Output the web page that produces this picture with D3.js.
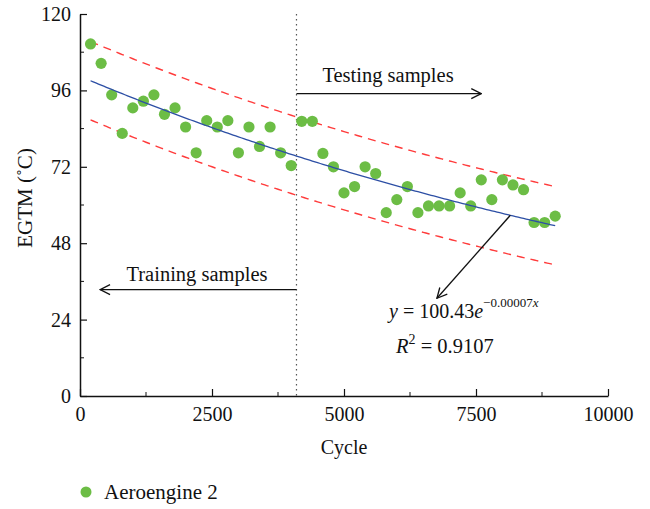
<!DOCTYPE html>
<html>
<head>
<meta charset="utf-8">
<script src="https://cdn.jsdelivr.net/npm/d3@7"></script>
<style>
  body { margin: 0; background: #fff; }
  text { font-family: "Liberation Serif", "DejaVu Serif", serif; fill: #111; }
</style>
</head>
<body>
<div class="svg-container"></div>
<script>
// data
const cycles = [200, 400, 600, 800, 1000, 1200, 1400, 1600, 1800, 2000,
  2200, 2400, 2600, 2800, 3000, 3200, 3400, 3600, 3800, 4000,
  4200, 4400, 4600, 4800, 5000, 5200, 5400, 5600, 5800, 6000,
  6200, 6400, 6600, 6800, 7000, 7200, 7400, 7600, 7800, 8000,
  8200, 8400, 8600, 8800, 9000];
const egtm = [110.6, 104.5, 94.6, 82.5, 90.5, 92.6, 94.6, 88.5, 90.5, 84.5,
  76.4, 86.5, 84.5, 86.5, 76.4, 84.5, 78.4, 84.5, 76.4, 72.4,
  86.3, 86.3, 76.2, 72.0, 63.8, 65.8, 72.0, 69.9, 57.6, 61.7,
  65.8, 57.6, 59.7, 59.7, 59.7, 63.8, 59.7, 67.9, 61.7, 67.9,
  66.3, 64.8, 54.5, 54.5, 56.5];
const xTicks = [0, 2500, 5000, 7500, 10000];
const xMinor = [1250, 3750, 6250, 8750];
const yTicks = [0, 24, 48, 72, 96, 120];
const yMinor = [12, 36, 60, 84, 108];

// fit y = a * exp(b * x), band +/- width
const fitA = 100.43, fitB = -0.00007, bandWidth = 12.3;
const splitCycle = 4100;
const seriesName = "Aeroengine 2";

const width = 650, height = 509;
const margin = { top: 14, right: 42, bottom: 113, left: 80 };

const svg = d3.select(".svg-container")
  .append("svg")
  .attr("width", width)
  .attr("height", height);

const xScale = d3.scaleLinear()
  .domain([0, 10000])
  .range([margin.left, width - margin.right]);

const yScale = d3.scaleLinear()
  .domain([0, 120])
  .range([height - margin.bottom, margin.top]);

const defs = svg.append("defs");
defs.append("marker")
  .attr("id", "arrow")
  .attr("viewBox", "0 0 12 12")
  .attr("refX", 11)
  .attr("refY", 6)
  .attr("markerWidth", 12)
  .attr("markerHeight", 12)
  .attr("markerUnits", "userSpaceOnUse")
  .attr("orient", "auto")
  .append("path")
  .attr("d", "M1,1 L11,6 L1,11")
  .attr("fill", "none")
  .attr("stroke", "#111")
  .attr("stroke-width", 1.3);

// fit line and bands
const fitX = d3.range(200, 9001, 50);
const fit = x => fitA * Math.exp(fitB * x);

const line = d3.line()
  .x(d => xScale(d[0]))
  .y(d => yScale(d[1]));

svg.append("path")
  .datum(fitX.map(x => [x, fit(x) + bandWidth]))
  .attr("d", line)
  .attr("fill", "none")
  .attr("stroke", "#ff3b3b")
  .attr("stroke-width", 1.4)
  .attr("stroke-dasharray", "8,6");

svg.append("path")
  .datum(fitX.map(x => [x, fit(x) - bandWidth]))
  .attr("d", line)
  .attr("fill", "none")
  .attr("stroke", "#ff3b3b")
  .attr("stroke-width", 1.4)
  .attr("stroke-dasharray", "8,6");

// split line
svg.append("line")
  .attr("x1", xScale(splitCycle))
  .attr("x2", xScale(splitCycle))
  .attr("y1", yScale(120))
  .attr("y2", yScale(0))
  .attr("stroke", "#555")
  .attr("stroke-width", 1.2)
  .attr("stroke-dasharray", "1.5,3.5");

// points
svg.selectAll(".dot")
  .data(cycles.map((c, i) => [c, egtm[i]]))
  .enter()
  .append("circle")
  .attr("class", "dot")
  .attr("cx", d => xScale(d[0]))
  .attr("cy", d => yScale(d[1]))
  .attr("r", 5.6)
  .attr("fill", "#6cbd45");

svg.append("path")
  .datum(fitX.map(x => [x, fit(x)]))
  .attr("d", line)
  .attr("fill", "none")
  .attr("stroke", "#2d4fa5")
  .attr("stroke-width", 1.3);

// axes
const xAxis = svg.append("g")
  .attr("transform", "translate(0," + yScale(0) + ")");
xAxis.call(d3.axisBottom(xScale).tickValues(xTicks).tickFormat(d3.format("d"))
  .tickSizeInner(-7).tickSizeOuter(0).tickPadding(11));
xAxis.selectAll(".minor")
  .data(xMinor)
  .enter()
  .append("line")
  .attr("class", "minor")
  .attr("x1", d => xScale(d))
  .attr("x2", d => xScale(d))
  .attr("y2", -4)
  .attr("stroke", "#111");

const yAxis = svg.append("g")
  .attr("transform", "translate(" + xScale(0) + ",0)");
yAxis.call(d3.axisLeft(yScale).tickValues(yTicks).tickFormat(d3.format("d"))
  .tickSizeInner(-7).tickSizeOuter(0).tickPadding(9));
yAxis.selectAll(".minor")
  .data(yMinor)
  .enter()
  .append("line")
  .attr("class", "minor")
  .attr("y1", d => yScale(d))
  .attr("y2", d => yScale(d))
  .attr("x2", 4)
  .attr("stroke", "#111");

svg.selectAll(".domain").attr("stroke", "#111").attr("stroke-width", 1.5);
svg.selectAll(".tick line").attr("stroke", "#111").attr("stroke-width", 1.2);
svg.selectAll(".tick text")
  .style("font-family", "Liberation Serif")
  .style("font-size", "20px")
  .attr("fill", "#111");

// axis labels
svg.append("text")
  .attr("x", xScale(5000))
  .attr("y", 454)
  .attr("text-anchor", "middle")
  .style("font-size", "20px")
  .text("Cycle");

svg.append("text")
  .attr("transform", "translate(32,198) rotate(-90)")
  .attr("text-anchor", "middle")
  .style("font-size", "21px")
  .text("EGTM (˚C)");

// annotations
svg.append("line")
  .attr("x1", xScale(splitCycle))
  .attr("x2", xScale(7600))
  .attr("y1", yScale(95))
  .attr("y2", yScale(95))
  .attr("stroke", "#111")
  .attr("stroke-width", 1.3)
  .attr("marker-end", "url(#arrow)");

svg.append("text")
  .attr("x", 388)
  .attr("y", 82)
  .attr("text-anchor", "middle")
  .style("font-size", "20.5px")
  .text("Testing samples");

svg.append("line")
  .attr("x1", xScale(splitCycle))
  .attr("x2", xScale(380))
  .attr("y1", yScale(33.4))
  .attr("y2", yScale(33.4))
  .attr("stroke", "#111")
  .attr("stroke-width", 1.3)
  .attr("marker-end", "url(#arrow)");

svg.append("text")
  .attr("x", 197)
  .attr("y", 281)
  .attr("text-anchor", "middle")
  .style("font-size", "20.5px")
  .text("Training samples");

svg.append("line")
  .attr("x1", xScale(8150))
  .attr("y1", yScale(fit(8150)))
  .attr("x2", xScale(6760))
  .attr("y2", yScale(30.7))
  .attr("stroke", "#111")
  .attr("stroke-width", 1.3)
  .attr("marker-end", "url(#arrow)");

const eq = svg.append("text")
  .attr("x", 389)
  .attr("y", 318)
  .style("font-size", "20px");
eq.append("tspan").style("font-style", "italic").text("y");
eq.append("tspan").text(" = 100.43");
eq.append("tspan").style("font-style", "italic").text("e");
eq.append("tspan").attr("dy", -11).style("font-size", "13px").text("−0.00007");
eq.append("tspan").style("font-size", "13px").style("font-style", "italic").text("x");

const r2 = svg.append("text")
  .attr("x", 396)
  .attr("y", 353)
  .style("font-size", "20.5px");
r2.append("tspan").style("font-style", "italic").text("R");
r2.append("tspan").attr("dy", -9).style("font-size", "14px").text("2");
r2.append("tspan").attr("dy", 9).text(" = 0.9107");

// legend
const legend = svg.append("g").attr("id", "legend");
legend.append("circle")
  .attr("cx", 86)
  .attr("cy", 492)
  .attr("r", 5.5)
  .attr("fill", "#6cbd45");
legend.append("text")
  .attr("x", 104)
  .attr("y", 499)
  .style("font-size", "21px")
  .text(seriesName);
</script>
</body>
</html>
